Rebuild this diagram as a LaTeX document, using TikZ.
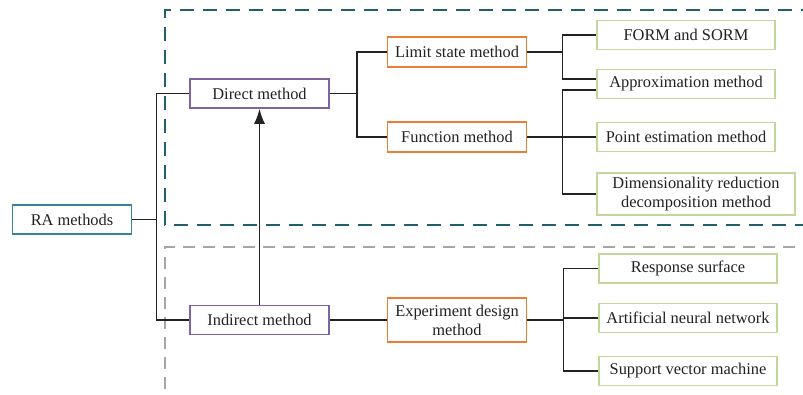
\documentclass[tikz,border=0pt]{standalone}
\usepackage{fontspec}
\setmainfont{Liberation Serif}
\usetikzlibrary{arrows.meta, positioning}

\definecolor{rateal}{HTML}{31859C}
\definecolor{dirpurple}{HTML}{8064A2}
\definecolor{suborange}{HTML}{ED7D31}
\definecolor{leafgreen}{HTML}{C3D69B}
\definecolor{darkteal}{HTML}{215F6E}
\definecolor{linegray}{HTML}{A6A6A6}
\definecolor{inkgray}{HTML}{222222}

\begin{document}
\begin{tikzpicture}[x=1pt, y=-1pt, >=latex, font=\fontsize{16.4}{19}\selectfont, text=inkgray]
  \tikzstyle{basebox}=[draw, line width=1.6pt, align=center, inner sep=2pt, fill=white]
  \tikzstyle{rootbox}=[basebox, draw=rateal, minimum width=119pt, minimum height=29pt]
  \tikzstyle{kindbox}=[basebox, draw=dirpurple, minimum width=139pt, minimum height=29pt]
  \tikzstyle{waybox}=[basebox, draw=suborange, minimum width=139pt, minimum height=30pt]
  \tikzstyle{leafbox}=[basebox, draw=leafgreen, minimum width=178pt, minimum height=29pt]
  \tikzstyle{link}=[draw=inkgray, line width=1.5pt]

  \useasboundingbox (0,0) rectangle (803,394);
  \clip (0,0) rectangle (803,394);

  % dashed frames round the two groups
  \draw[darkteal, line width=1.9pt, dash pattern=on 14pt off 9pt] (815,10) -- (165,10) -- (165,225) -- (815,225);
  \draw[linegray, line width=1.6pt, dash pattern=on 12pt off 8pt] (815,247) -- (165,247) -- (165,400);

  % tree nodes
  \node[rootbox] (ra) at (72,219.5) {RA methods};
  \node[kindbox] (direct) at (259.5,93.5) {Direct method};
  \node[kindbox] (indirect) at (259.5,320) {Indirect method};

  \node[waybox] (limit) at (457,52) {Limit state method};
  \node[waybox] (func) at (457,137) {Function method};
  \node[waybox, minimum height=44pt] (expdes) at (457,320) {Experiment design\\method};

  \node[leafbox] (form) at (686,35) {FORM and SORM};
  \node[leafbox] (approx) at (686,84) {Approximation method};
  \node[leafbox] (point) at (686,137) {Point estimation method};
  \node[leafbox, minimum width=198pt, minimum height=42pt] (dimred) at (696,194) {Dimensionality reduction\\decomposition method};

  \node[leafbox] (resp) at (688,268.5) {Response surface};
  \node[leafbox] (ann) at (688,318) {Artificial neural network};
  \node[leafbox] (svm) at (688,371) {Support vector machine};

  % elbow connectors
  \draw[link] (ra.east) -- ++(24,0) coordinate (jra);
  \draw[link] (jra) |- (direct.west);
  \draw[link] (jra) |- (indirect.west);

  \draw[link] (direct.east) -- ++(27,0) coordinate (jdir);
  \draw[link] (jdir) |- (limit.west);
  \draw[link] (jdir) |- (func.west);

  \draw[link] (limit.east) -- ++(35,0) coordinate (jlim);
  \draw[link] (jlim) |- (form.west);
  \draw[link] (jlim) |- ([yshift=5pt]approx.west);

  \draw[link] (func.east) -- ++(35,0) coordinate (jfun);
  \draw[link] (jfun) |- ([yshift=-6pt]approx.west);
  \draw[link] (jfun) |- (point.west);
  \draw[link] (jfun) |- (dimred.west);

  \draw[link] (indirect.east) -- (expdes.west);
  \draw[link] (expdes.east) -- ++(36,0) coordinate (jexp);
  \draw[link] (jexp) |- (resp.west);
  \draw[link] (jexp) |- (ann.west);
  \draw[link] (jexp) |- (svm.west);

  \draw[link, -{Latex[length=15pt, width=11pt]}] (indirect.north) -- (direct.south);
\end{tikzpicture}
\end{document}
